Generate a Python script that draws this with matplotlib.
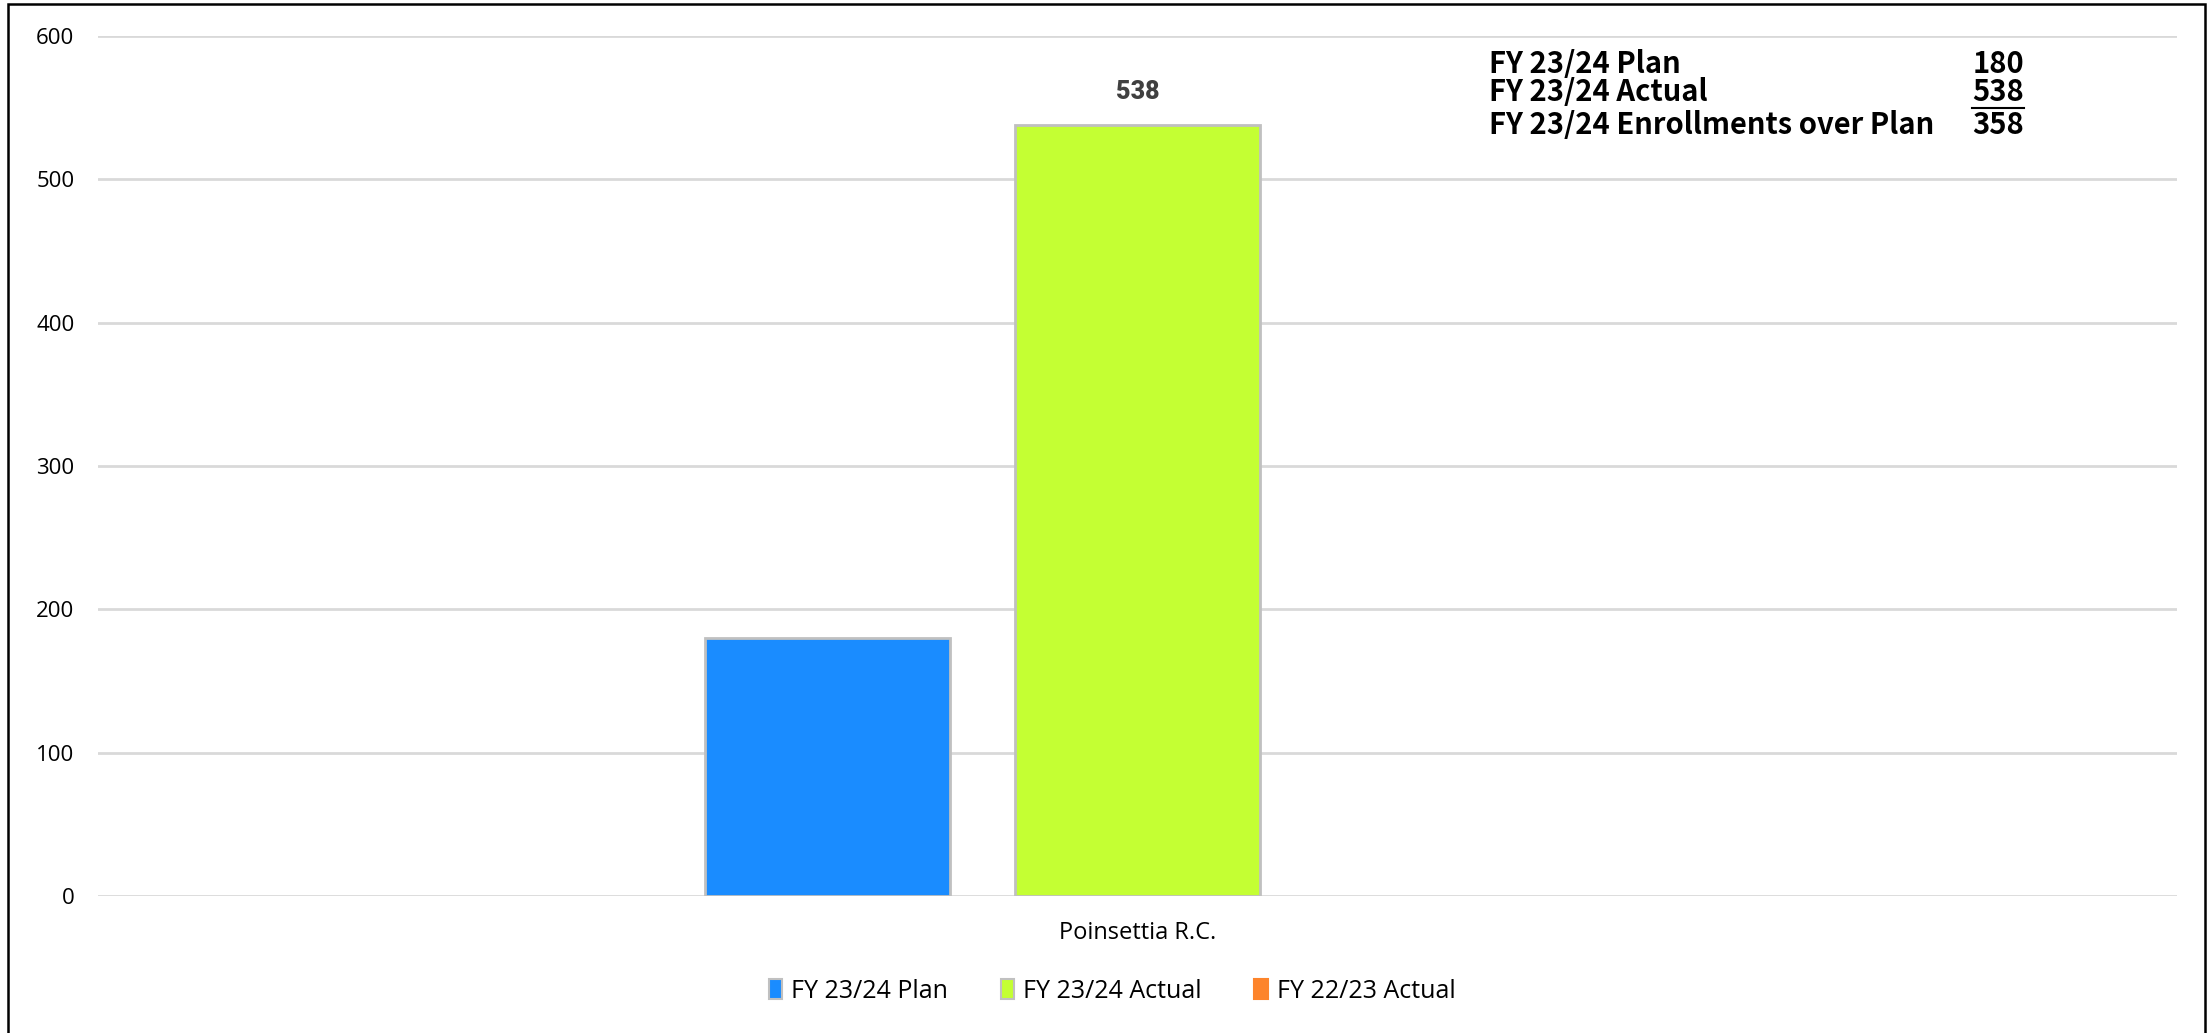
import matplotlib.pyplot as plt
from matplotlib.patches import Rectangle, Patch
from matplotlib.lines import Line2D

# chart data
categories = ["Poinsettia R.C."]
series_names = ["FY 23/24 Plan", "FY 23/24 Actual", "FY 22/23 Actual"]
plan_2324 = [180]
actual_2324 = [538]
actual_2223 = [0]
series_colors = ["#1a8cff", "#c4ff33", "#fd842b"]
y_ticks = [0, 100, 200, 300, 400, 500, 600]

summary_labels = ["FY 23/24 Plan", "FY 23/24 Actual", "FY 23/24 Enrollments over Plan"]
summary_values = [plan_2324[0], actual_2324[0], actual_2324[0] - plan_2324[0]]

W, H = 2208, 1033
fig = plt.figure(figsize=(W / 100, H / 100), dpi=100)
fig.patch.set_facecolor("white")

ax = fig.add_axes([98 / W, 1 - 896 / H, (2177 - 98) / W, (896 - 36) / H])
ax.set_xlim(0, 1)
ax.set_ylim(0, 600)

bar_w = 0.1178
step = 0.1489
all_series = [plan_2324, actual_2324, actual_2223]
bars = []
for i, (vals, col) in enumerate(zip(all_series, series_colors)):
    xs = [0.5 + k + (i - 1) * step for k in range(len(categories))]
    lw = [2.0 if v > 0 else 0 for v in vals]
    b = ax.bar(xs, vals, width=bar_w, color=col, edgecolor="#c0c0c0",
               linewidth=lw, zorder=3)
    bars.append(b)

# data label on the actual bar
for rect, v in zip(bars[1], actual_2324):
    ax.annotate(f"{v}", (rect.get_x() + rect.get_width() / 2, v),
                xytext=(0, 15), textcoords="offset points", ha="center", va="bottom",
                fontsize=18, fontweight="heavy", color="#404040", family="Roboto")

ax.set_yticks(y_ticks)
ax.set_yticklabels([str(t) for t in y_ticks], fontsize=16, family="Open Sans", color="#000000")
ax.tick_params(axis="y", length=0, pad=17)
ax.set_xticks([0.5])
ax.set_xticklabels(categories, fontsize=17, family="Open Sans", color="#000000")
ax.tick_params(axis="x", length=0, pad=18)
ax.grid(axis="y", color="#d9d9d9", linewidth=2, zorder=0)
for s in ax.spines.values():
    s.set_visible(False)

# legend
handles = [Patch(facecolor=c, edgecolor="#c0c0c0" if i < 2 else c, linewidth=1.5)
           for i, c in enumerate(series_colors)]
fig.legend(handles, series_names, loc="center", bbox_to_anchor=(1112 / W, 1 - 991 / H),
           ncol=3, frameon=False, prop={"family": "Open Sans", "size": 18},
           handlelength=0.55, handleheight=0.9, handletextpad=0.35, columnspacing=2.1)

# summary text block
lab_x = 1489 / W
val_x = 2024 / W
baselines = [73, 101, 134]
val_texts = []
for lab, val, by in zip(summary_labels, summary_values, baselines):
    fig.text(lab_x, 1 - by / H, lab, ha="left", va="baseline", fontsize=21,
             fontweight="bold", family="Noto Sans CJK JP", color="#000000")
    t = fig.text(val_x, 1 - by / H, str(val), ha="right", va="baseline", fontsize=21,
                 fontweight="bold", family="Noto Sans CJK JP", color="#000000")
    val_texts.append(t)

# underline the actual value
fig.canvas.draw()
bb = val_texts[1].get_window_extent()
uy = 1 - 108 / H
fig.add_artist(Line2D([bb.x0 / W, bb.x1 / W], [uy, uy], color="#000000", linewidth=1.5))

# outer frame
fig.add_artist(Rectangle((8 / W, -0.02), (2205 - 8) / W, 1.02 - 4 / H,
                         transform=fig.transFigure, fill=False, edgecolor="#000000",
                         linewidth=1.8))

fig.savefig("out.png", dpi=100, facecolor="white")
